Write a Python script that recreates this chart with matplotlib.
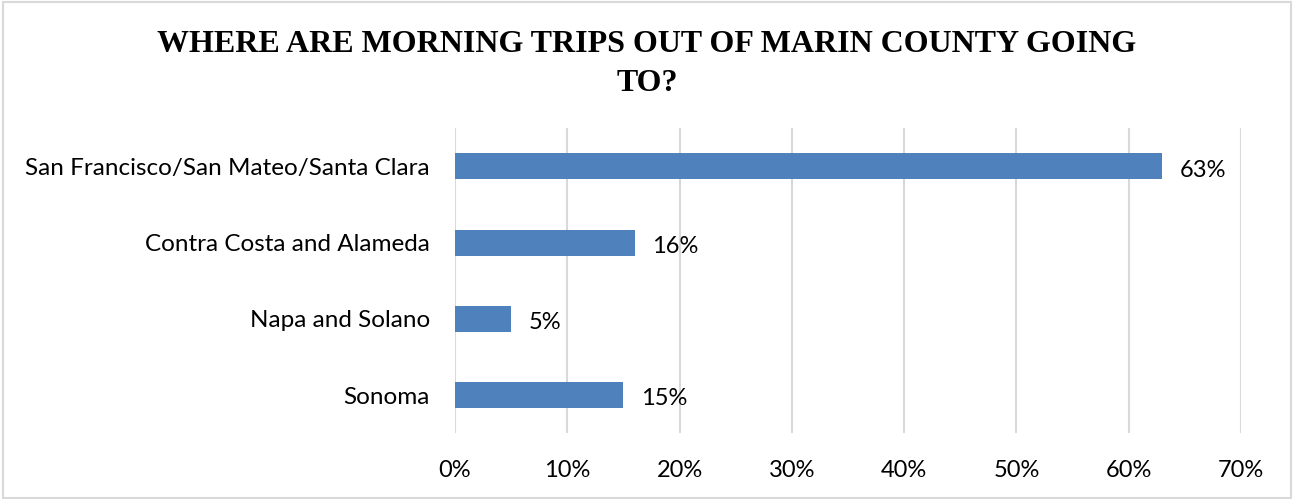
import matplotlib.pyplot as plt
from matplotlib.patches import Rectangle

categories = ['San Francisco/San Mateo/Santa Clara', 'Contra Costa and Alameda',
              'Napa and Solano', 'Sonoma']
shares = [63, 16, 5, 15]
ticks = [0, 10, 20, 30, 40, 50, 60, 70]

fig = plt.figure(figsize=(12.94, 4.99), dpi=100)
ax = fig.add_axes([0.3516, 0.132, 0.6074, 0.611])

ypos = list(range(len(categories)))
ax.barh(ypos, shares, height=0.34, color='#4F81BD', zorder=3)
ax.set_ylim(3.5, -0.5)
ax.set_xlim(0, 70)

# подписи значений
for y, v in zip(ypos, shares):
    ax.text(v + 1.55, y + 0.05, f'{v}%', va='center', ha='left',
            fontsize=17, family='Lato')

ax.set_yticks(ypos)
ax.set_yticklabels(categories, fontsize=17.5, family='Lato')
ax.set_xticks(ticks)
ax.set_xticklabels([f'{t}%' for t in ticks], fontsize=17, family='Lato')
ax.tick_params(axis='both', length=0)
ax.tick_params(axis='y', pad=18)
ax.tick_params(axis='x', pad=19)
ax.grid(axis='x', color='#d9d9d9', linewidth=1.5, zorder=0)
for s in ax.spines.values():
    s.set_visible(False)

fig.text(0.5, 0.91, 'WHERE ARE MORNING TRIPS OUT OF MARIN COUNTY GOING', ha='center',
         va='center', fontsize=23, fontweight='bold', family='Liberation Serif')
fig.text(0.5, 0.832, 'TO?', ha='center', va='center', fontsize=23,
         fontweight='bold', family='Liberation Serif')

fig.patches.append(Rectangle((0.002, 0.002), 0.996, 0.994, transform=fig.transFigure,
                             fill=False, edgecolor='#d9d9d9', linewidth=1.5))

fig.savefig('out.png', dpi=100)
